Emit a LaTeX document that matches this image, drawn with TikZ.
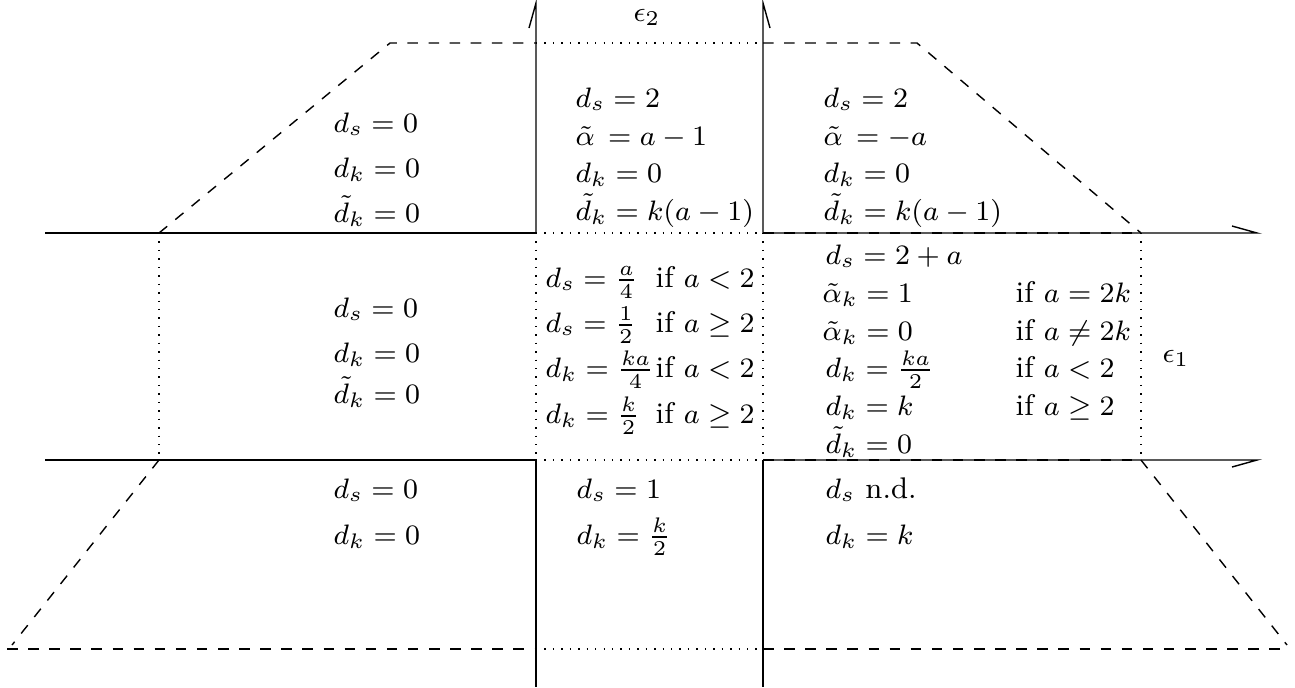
\documentclass[tikz,border=0pt]{standalone}
\begin{document}
\begin{tikzpicture}[x=0.01cm,y=-0.01cm,
  txt/.style={inner sep=0pt,anchor=base west,font=\fontsize{8.5}{10}\selectfont},
  lbl/.style={inner sep=0pt,anchor=center,font=\fontsize{8.5}{10}\selectfont},
  axisline/.style={line width=0.4pt},
  dashline/.style={dashed,line width=0.4pt},
  dotline/.style={dotted,line width=0.4pt}]
\useasboundingbox (0,0) rectangle (1295,687);
% axis points
\coordinate (VLt) at (536,3);
\coordinate (VLa) at (536,233);
\coordinate (VLb) at (536,460);
\coordinate (VLe) at (536,687);
\coordinate (VRt) at (763,3);
\coordinate (VRa) at (763,233);
\coordinate (VRb) at (763,460);
\coordinate (VRe) at (763,687);
\coordinate (HUl) at (45,233);
\coordinate (HUr) at (1257,233);
\coordinate (HLl) at (45,460);
\coordinate (HLr) at (1257,460);
% region boundary points
\coordinate (PUl) at (159,233);
\coordinate (PUr) at (1141,233);
\coordinate (PLl) at (159,460);
\coordinate (PLr) at (1141,460);
\coordinate (TLc) at (390,43);
\coordinate (TLm) at (536,43);
\coordinate (TRm) at (763,43);
\coordinate (TRc) at (917,43);
\coordinate (BLe) at (12,645);
\coordinate (BRe) at (1287,645);
\coordinate (BHl) at (7,649);
\coordinate (BHm1) at (536,649);
\coordinate (BHm2) at (763,649);
\coordinate (BHr) at (1290,649);
% axes (half arrows)
\draw[axisline] (VLa) -- (VLt) -- ++(-7,25);
\draw[dotline] (VLa) -- (VLb);
\draw[axisline] (VLb) -- (VLe);
\draw[axisline] (VRa) -- (VRt) -- ++(7,25);
\draw[dotline] (VRa) -- (VRb);
\draw[axisline] (VRb) -- (VRe);
\draw[axisline] (HUl) -- (VLa);
\draw[dotline] (VLa) -- (VRa);
\draw[axisline] (VRa) -- (HUr) -- ++(-25,-7);
\draw[axisline] (HLl) -- (VLb);
\draw[dotline] (VLb) -- (VRb);
\draw[axisline] (VRb) -- (HLr) -- ++(-25,7);
% dashed region outline
\draw[dashline] (PUl) -- (TLc) -- (TLm);
\draw[dotline] (TLm) -- (TRm);
\draw[dashline] (TRm) -- (TRc) -- (PUr);
\draw[dashline] (PUl) -- (VLa);
\draw[dashline] (VRa) -- (PUr);
\draw[dashline] (PLl) -- (VLb);
\draw[dashline] (VRb) -- (PLr);
\draw[dotline] (PUl) -- (PLl);
\draw[dotline] (PUr) -- (PLr);
\draw[dashline] (PLl) -- (BLe);
\draw[dashline] (PLr) -- (BRe);
\draw[dashline] (BHl) -- (BHm1);
\draw[dotline] (BHm1) -- (BHm2);
\draw[dashline] (BHm2) -- (BHr);
% axis labels
\node[lbl] (eps2) at (647,17) {$\epsilon_2$};
\node[lbl] (eps1) at (1176,358) {$\epsilon_1$};
% top-left
\node[txt] (tl1) at (333,132) {$d_s = 0$};
\node[txt] (tl2) at (333,177) {$d_k = 0$};
\node[txt] (tl3) at (333,222) {$\tilde{d}_k = 0$};
% top-middle
\node[txt] (tm1) at (575,107) {$d_s = 2$};
\node[txt] (tm2) at (575,145) {$\tilde{\alpha}\, = a-1$};
\node[txt] (tm3) at (575,182) {$d_k = 0$};
\node[txt] (tm4) at (575,220) {$\tilde{d}_k = k(a-1)$};
% top-right
\node[txt] (tr1) at (823,107) {$d_s = 2$};
\node[txt] (tr2) at (823,145) {$\tilde{\alpha}\, = -a$};
\node[txt] (tr3) at (823,182) {$d_k = 0$};
\node[txt] (tr4) at (823,220) {$\tilde{d}_k = k(a-1)$};
% middle-left
\node[txt] (ml1) at (333,317) {$d_s = 0$};
\node[txt] (ml2) at (333,362) {$d_k = 0$};
\node[txt] (ml3) at (333,403) {$\tilde{d}_k = 0$};
% middle-centre
\node[txt] (mc1) at (545,287) {$d_s = \frac{a}{4}$};
\node[txt] (mc2) at (545,332) {$d_s = \frac{1}{2}$};
\node[txt] (mc3) at (545,377) {$d_k = \frac{ka}{4}$};
\node[txt] (mc4) at (545,423) {$d_k = \frac{k}{2}$};
\node[txt] (mci1) at (655,287) {if $a < 2$};
\node[txt] (mci2) at (655,332) {if $a \geq 2$};
\node[txt] (mci3) at (655,377) {if $a < 2$};
\node[txt] (mci4) at (655,423) {if $a \geq 2$};
% middle-right
\node[txt] (mr1) at (825,264) {$d_s = 2+a$};
\node[txt] (mr2) at (822,302) {$\tilde{\alpha}_k = 1$};
\node[txt] (mr3) at (822,340) {$\tilde{\alpha}_k = 0$};
\node[txt] (mr4) at (825,377) {$d_k = \frac{ka}{2}$};
\node[txt] (mr5) at (825,415) {$d_k = k$};
\node[txt] (mr6) at (825,453) {$\tilde{d}_k = 0$};
\node[txt] (mri2) at (1015,302) {if $a = 2k$};
\node[txt] (mri3) at (1015,340) {if $a \neq 2k$};
\node[txt] (mri4) at (1015,377) {if $a < 2$};
\node[txt] (mri5) at (1015,415) {if $a \geq 2$};
% bottom
\node[txt] (bl1) at (333,498) {$d_s = 0$};
\node[txt] (bl2) at (333,544) {$d_k = 0$};
\node[txt] (bm1) at (576,498) {$d_s = 1$};
\node[txt] (bm2) at (576,544) {$d_k = \frac{k}{2}$};
\node[txt] (br1) at (825,498) {$d_s$ n.d.};
\node[txt] (br2) at (825,544) {$d_k = k$};
\end{tikzpicture}
\end{document}
